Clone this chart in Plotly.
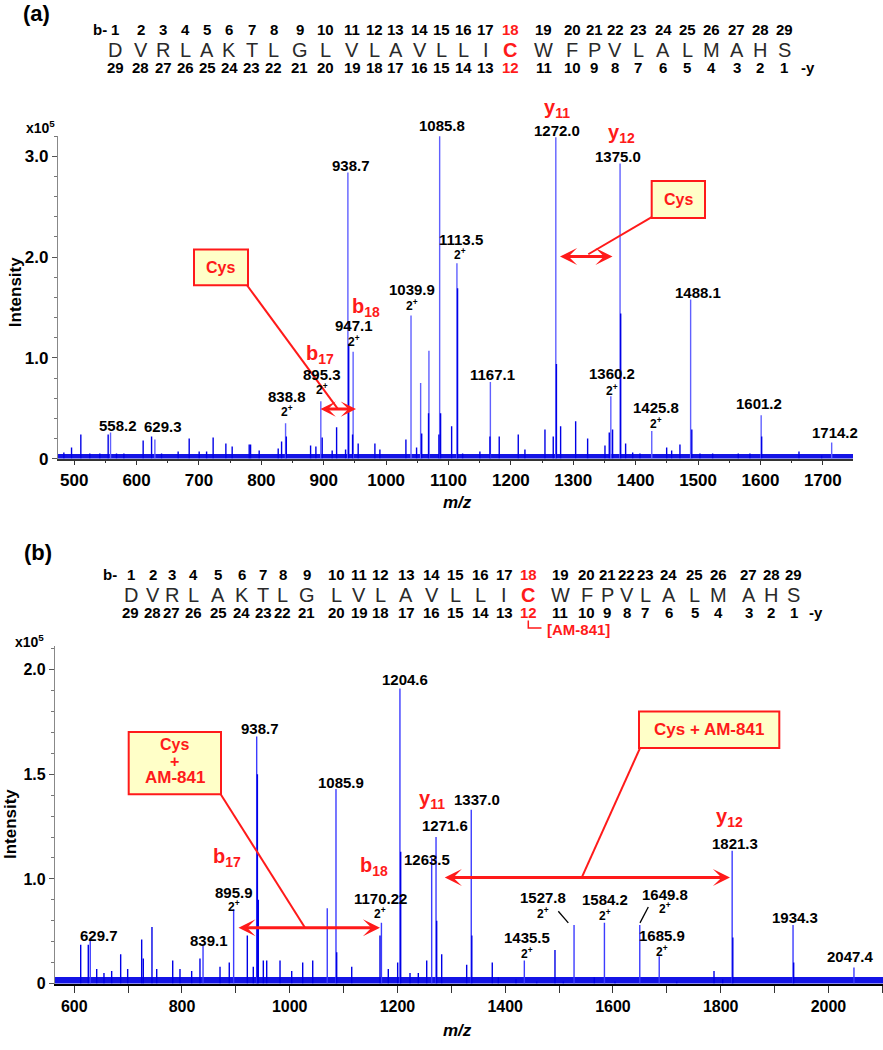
import plotly.graph_objects as go

W, H = 883, 1050

# ---------------- DATA ----------------
# Panel (a): labelled peaks (m/z, intensity in units of 1e5)
mz_a = [558.2, 629.3, 838.8, 895.3, 938.7, 947.1, 1039.9, 1055.3, 1068.6, 1085.8,
        1113.5, 1167.1, 1272.0, 1360.2, 1375.0, 1425.8, 1488.1, 1601.2, 1714.2]
int_a = [0.26, 0.19, 0.35, 0.57, 2.84, 1.06, 1.42, 0.75, 1.07, 3.20,
         1.94, 0.76, 3.19, 0.62, 2.93, 0.275, 1.58, 0.43, 0.16]
# Panel (a): minor peaks
mz_a_minor = [483.4, 495.7, 510.6, 525.0, 541.0, 554.4, 567.8, 579.6, 610.5, 624.0,
              640.0, 666.6, 684.3, 700.3, 712.2, 722.7, 743.1, 753.2, 780.5, 782.7,
              796.5, 827.0, 832.4, 840.0, 878.9, 887.4, 897.5, 913.5, 920.6, 935.0,
              940.0, 946.2, 955.2, 982.0, 990.0, 1031.7, 1048.8, 1057.0, 1068.0, 1084.6,
              1087.3, 1105.0, 1114.5, 1122.6, 1150.3, 1166.4, 1181.3, 1211.8, 1222.5, 1254.6,
              1267.9, 1273.0, 1279.7, 1303.8, 1323.0, 1350.8, 1357.7, 1363.0, 1376.0, 1383.9,
              1395.2, 1406.9, 1449.7, 1457.7, 1471.0, 1490.0, 1503.1, 1523.4, 1564.5, 1583.2,
              1602.0, 1661.8, 1698.2]
int_a_minor = [0.06, 0.11, 0.24, 0.05, 0.05, 0.24, 0.05, 0.05, 0.18, 0.22,
               0.05, 0.07, 0.20, 0.07, 0.07, 0.21, 0.15, 0.12, 0.14, 0.14,
               0.08, 0.10, 0.17, 0.22, 0.13, 0.12, 0.21, 0.08, 0.31, 0.09,
               1.14, 0.24, 0.15, 0.15, 0.09, 0.19, 0.11, 0.25, 0.45, 0.24,
               0.45, 0.32, 1.69, 0.05, 0.07, 0.22, 0.22, 0.24, 0.09, 0.29,
               0.22, 0.94, 0.32, 0.37, 0.20, 0.13, 0.26, 0.29, 1.44, 0.15,
               0.06, 0.05, 0.11, 0.08, 0.14, 0.29, 0.05, 0.05, 0.05, 0.05,
               0.22, 0.07, 0.03]

# Panel (b): labelled peaks (intensity read on the printed axis; its "0" sits at 0.5)
mz_b = [629.7, 839.1, 895.9, 938.7, 1069.7, 1085.9, 1170.22, 1204.6, 1263.5, 1271.6,
        1337.0, 1435.5, 1527.8, 1584.2, 1649.8, 1685.9, 1821.3, 1934.3, 2047.4]
int_b = [0.715, 0.68, 0.855, 1.68, 0.86, 1.43, 0.79, 1.91, 1.10, 1.20,
         1.33, 0.61, 0.78, 0.79, 0.78, 0.63, 1.134, 0.78, 0.577]
mz_b_minor = [612.0, 626.1, 641.7, 655.2, 669.5, 686.2, 699.2, 725.2, 728.2, 744.3,
              753.1, 782.8, 796.3, 818.0, 833.4, 870.6, 887.8, 921.3, 932.4, 940.0,
              941.7, 951.0, 957.3, 982.0, 1003.7, 1024.1, 1042.7, 1087.2, 1115.1, 1167.6,
              1183.0, 1200.4, 1206.0, 1223.3, 1238.7, 1254.3, 1272.8, 1282.1, 1328.5, 1338.0,
              1376.0, 1387.2, 1420.0, 1458.5, 1492.4, 1507.9, 1565.4, 1603.8, 1718.4, 1787.6,
              1803.7, 1822.5, 1935.5]
int_b_minor = [0.685, 0.685, 0.57, 0.55, 0.56, 0.64, 0.57, 0.71, 0.62, 0.77,
               0.57, 0.61, 0.57, 0.56, 0.62, 0.58, 0.60, 0.73, 0.58, 1.50,
               0.90, 0.61, 0.61, 0.61, 0.56, 0.60, 0.61, 0.65, 0.58, 0.73,
               0.57, 0.60, 1.13, 0.55, 0.55, 0.61, 0.80, 0.64, 0.59, 0.73,
               0.60, 0.53, 0.52, 0.51, 0.66, 0.51, 0.53, 0.51, 0.51, 0.56,
               0.52, 0.72, 0.60]

SEQUENCE = ["D", "V", "R", "L", "A", "K", "T", "L", "G", "L", "V", "L", "A", "V", "L",
            "L", "I", "C", "W", "F", "P", "V", "L", "A", "L", "M", "A", "H", "S"]
B_IONS = ["1", "2", "3", "4", "5", "6", "7", "8", "9", "10", "11", "12", "13", "14", "15",
          "16", "17", "18", "19", "20", "21", "22", "23", "24", "25", "26", "27", "28", "29"]
Y_IONS = ["29", "28", "27", "26", "25", "24", "23", "22", "21", "20", "19", "18", "17", "16", "15",
          "14", "13", "12", "11", "10", "9", "8", "7", "6", "5", "4", "3", "2", "1"]
MOD_SITE = 17  # index of Cys

XTICKS_A = [500, 600, 700, 800, 900, 1000, 1100, 1200, 1300, 1400, 1500, 1600, 1700]
XTICKS_B = [600, 800, 1000, 1200, 1400, 1600, 1800, 2000]
YTICKS_A = [0, 1, 2, 3]
YTICKTEXT_A = ["0", "1.0", "2.0", "3.0"]
YTICKS_B = [0.5, 1.0, 1.5, 2.0]
YTICKTEXT_B = ["0", "1.0", "1.5", "2.0"]

# ---------------- LAYOUT CONSTANTS ----------------
XR_A = [474.0, 1748.4]
YR_A = [0.0, 3.2055]
XR_B = [564.3, 2101.3]
BASE_B = 0.5
YR_B = [BASE_B, 2.1138]

SEQ_X_A = [115, 140.5, 163, 185, 207, 229.5, 251.5, 273.5, 299.5, 325.5, 352, 374, 395.5, 419.5,
           441.5, 463.5, 486, 510, 543.5, 572, 594, 615.4, 638.4, 663.1, 687.2, 711.3, 736.6,
           760.1, 784.2]
SEQ_X_B = [130.7, 152.7, 171.7, 193.3, 218.3, 241.7, 263.3, 282.7, 306.7, 336.7, 359.3, 380,
           406, 431.7, 455, 480.7, 504.3, 528.3, 560, 586.7, 607, 626.6, 645.1, 668.7, 694.5,
           718, 748.9, 771.3, 793.8]

FONT = "Liberation Sans, Arial, sans-serif"
RED = "#ff1a1a"


def sticks(mz, inten, base):
    xs, ys = [], []
    for m, v in zip(mz, inten):
        xs += [m, m, None]
        ys += [base, v, None]
    return xs, ys


fig = go.Figure()

# panel (a)
fig.add_trace(go.Scatter(x=XR_A, y=[0, 0], mode="lines", xaxis="x", yaxis="y",
                         line=dict(color="#1414e6", width=9), hoverinfo="skip", showlegend=False))
xs, ys = sticks(mz_a, int_a, 0)
fig.add_trace(go.Scatter(x=xs, y=ys, mode="lines", xaxis="x", yaxis="y",
                         line=dict(color="#6060ff", width=1.4), hoverinfo="skip", showlegend=False))
xs, ys = sticks(mz_a_minor, int_a_minor, 0)
fig.add_trace(go.Scatter(x=xs, y=ys, mode="lines", xaxis="x", yaxis="y",
                         line=dict(color="#0000e6", width=1.4), hoverinfo="skip", showlegend=False))
# panel (b)
fig.add_trace(go.Scatter(x=XR_B, y=[BASE_B, BASE_B], mode="lines", xaxis="x2", yaxis="y2",
                         line=dict(color="#1414e6", width=13), hoverinfo="skip", showlegend=False))
xs, ys = sticks(mz_b, int_b, BASE_B)
fig.add_trace(go.Scatter(x=xs, y=ys, mode="lines", xaxis="x2", yaxis="y2",
                         line=dict(color="#3c3cff", width=1.4), hoverinfo="skip", showlegend=False))
xs, ys = sticks(mz_b_minor, int_b_minor, BASE_B)
fig.add_trace(go.Scatter(x=xs, y=ys, mode="lines", xaxis="x2", yaxis="y2",
                         line=dict(color="#0000e6", width=1.4), hoverinfo="skip", showlegend=False))


def P(px, py):
    return px / W, 1 - py / H


anns = []
shapes = []


def txt(s, px, py, size=15, color="black", bold=True, italic=False, angle=0, xanchor="center"):
    x, y = P(px, py)
    anns.append(dict(text=s, x=x, y=y, xref="paper", yref="paper", xanchor=xanchor,
                     yanchor="middle", showarrow=False, textangle=angle,
                     font=dict(size=size, color=color, family=FONT,
                               weight="bold" if bold else "normal",
                               style="italic" if italic else "normal")))


def line(p1, p2, color=RED, width=2):
    x0, y0 = P(*p1)
    x1, y1 = P(*p2)
    shapes.append(dict(type="line", xref="paper", yref="paper", x0=x0, y0=y0, x1=x1, y1=y1,
                       line=dict(color=color, width=width)))


def box(x0, y0, x1, y1):
    a0, b0 = P(x0, y0)
    a1, b1 = P(x1, y1)
    shapes.append(dict(type="rect", xref="paper", yref="paper", x0=a0, y0=b1, x1=a1, y1=b0,
                       fillcolor="#ffffc8", line=dict(color=RED, width=2)))


def darrow(xs_px, xe_px, py, size=0.95):
    x, y = P(xe_px, py)
    anns.append(dict(text="", x=x, y=y, xref="paper", yref="paper", ax=xs_px - xe_px, ay=0,
                     axref="pixel", ayref="pixel", showarrow=True, arrowhead=3,
                     arrowside="end+start", arrowsize=size, arrowwidth=3, arrowcolor=RED,
                     standoff=0, startstandoff=0))


def sequence(xpos, yb, yl, yy, bx, yx):
    txt("b-", bx, yb, size=15)
    txt("-y", yx, yy, size=15)
    for i, (aa, b, y) in enumerate(zip(SEQUENCE, B_IONS, Y_IONS)):
        c = RED if i == MOD_SITE else "black"
        txt(b, xpos[i], yb, size=15, color=c)
        txt(aa, xpos[i], yl, size=20, color=c if i == MOD_SITE else "#2a2a2a",
            bold=(i == MOD_SITE))
        txt(y, xpos[i], yy, size=15, color=c)


# ---- panel (a) texts ----
txt("(a)", 36.5, 14, size=22)
sequence(SEQ_X_A, 30, 50.5, 68.5, 100, 808)
txt("x10<sup>5</sup>", 40, 128, size=14)
txt("Intensity", 15, 295, size=17, angle=-90)
txt("m/z", 458, 507, size=17, italic=True)

labels_a = [("558.2", 118, 429.5), ("629.3", 163.3, 431), ("838.8", 287.3, 400.7),
            ("895.3", 322, 378), ("947.1", 354, 329), ("938.7", 350.7, 167.3),
            ("1039.9", 412.3, 292.7), ("1085.8", 441.8, 126.7), ("1113.5", 461, 241.7),
            ("1167.1", 492.3, 378.3), ("1272.0", 556.7, 131.7), ("1375.0", 618.3, 158.3),
            ("1360.2", 612.3, 377.3), ("1425.8", 655.7, 411.7), ("1488.1", 697.7, 295),
            ("1601.2", 759.3, 407.7), ("1714.2", 835, 436.7)]
for s, px, py in labels_a:
    txt(s, px, py, size=15)
for px, py in [(287.3, 415), (322, 393), (354.3, 344.3), (412.3, 308.3), (460, 256.7),
               (612.3, 393.3), (655.7, 426.7)]:
    txt("2<sup>+</sup>", px, py, size=12)
txt("b<sub>17</sub>", 320, 358, size=20, color=RED)
txt("b<sub>18</sub>", 366, 310, size=20, color=RED)
txt("y<sub>11</sub>", 557.3, 110, size=20, color=RED)
txt("y<sub>12</sub>", 621.7, 135, size=20, color=RED)

box(194, 252, 248, 288)
txt("Cys", 221, 270, size=16, color=RED)
line((247, 288), (338, 413))
darrow(319, 356, 413, size=0.85)

box(651.7, 182.7, 705, 220)
txt("Cys", 678.3, 201.3, size=16, color=RED)
line((651.7, 219.3), (588.3, 256.7))
darrow(614, 560, 259)

# ---- panel (b) texts ----
txt("(b)", 38.3, 558.3, size=22)
sequence(SEQ_X_B, 580, 601, 618, 110, 816)
shapes.append(dict(type="path", xref="paper", yref="paper",
                   path="M {:.5f},{:.5f} L {:.5f},{:.5f} L {:.5f},{:.5f}".format(
                       *P(528.3, 626.5), *P(528.3, 634), *P(541.5, 634)),
                   line=dict(color=RED, width=1.5)))
txt("[AM-841]", 578, 635.5, size=15, color=RED)
txt("x10<sup>5</sup>", 30, 647, size=14)
txt("Intensity", 10, 832, size=17, angle=-90)
txt("m/z", 458, 1040, size=17, italic=True)

labels_b = [("629.7", 99, 944), ("839.1", 209, 949.3), ("895.9", 234.3, 900.7),
            ("938.7", 259.7, 736), ("1085.9", 340.7, 790), ("1170.22", 380, 907.3),
            ("1204.6", 405.3, 686), ("1263.5", 426.7, 867.3), ("1271.6", 445, 833.3),
            ("1337.0", 476.7, 806.7), ("1435.5", 527.3, 946.7), ("1527.8", 543.3, 906),
            ("1584.2", 605, 908), ("1649.8", 665, 902.7), ("1685.9", 661.7, 944),
            ("1821.3", 735, 851.7), ("1934.3", 795, 926.7), ("2047.4", 850, 966)]
for s, px, py in labels_b:
    txt(s, px, py, size=15)
for px, py in [(234.3, 915), (380, 921.7), (527.3, 962.3), (543.3, 921.7), (605, 924),
               (665, 917), (661.7, 960)]:
    txt("2<sup>+</sup>", px, py, size=12)
line((558.3, 920), (568.3, 931.7), color="black", width=1.3)
line((648.3, 915.7), (640, 931.7), color="black", width=1.3)
txt("b<sub>17</sub>", 227, 866, size=20, color=RED)
txt("b<sub>18</sub>", 374, 875, size=20, color=RED)
txt("y<sub>11</sub>", 431.7, 807, size=20, color=RED)
txt("y<sub>12</sub>", 729.3, 825, size=20, color=RED)

box(128.7, 739, 221, 802)
txt("Cys", 174.8, 752, size=16, color=RED)
txt("+", 174.8, 768.5, size=16, color=RED)
txt("AM-841", 174.8, 785, size=17, color=RED)
line((221, 802.3), (305, 936.7))
darrow(237, 380, 936.7)

box(639, 718.3, 779.3, 755.3)
txt("Cys + AM-841", 709.2, 736.8, size=17, color=RED)
line((640, 755.3), (581.7, 886))
darrow(443.3, 730, 886)

tickfont_a = dict(size=17, color="black", family=FONT, weight="bold")
tickfont_b = dict(size=16, color="black", family=FONT, weight="bold")

fig.update_layout(
    width=W, height=H, margin=dict(l=0, r=0, t=0, b=0),
    paper_bgcolor="white", plot_bgcolor="white", showlegend=False,
    font=dict(family=FONT),
    xaxis=dict(domain=[58 / W, 853 / W], range=XR_A, anchor="y", showgrid=False, zeroline=False,
               showline=True, linecolor="#333", linewidth=1.5, ticks="outside", ticklen=5,
               tickcolor="#333", tickvals=XTICKS_A, tickfont=tickfont_a,
               minor=dict(ticks="outside", ticklen=3, dtick=50, tick0=0, tickcolor="#333",
                          showgrid=False)),
    yaxis=dict(domain=[1 - 463 / H, 1 - 137 / H], range=YR_A, anchor="x", showgrid=False,
               zeroline=False, showline=True, linecolor="#888", linewidth=1.2, ticks="outside",
               ticklen=5, tickcolor="#555", tickvals=YTICKS_A, ticktext=YTICKTEXT_A,
               tickfont=tickfont_a,
               minor=dict(ticks="outside", ticklen=3, dtick=0.2, tick0=0, tickcolor="#777",
                          showgrid=False)),
    xaxis2=dict(domain=[55 / W, 1.0], range=XR_B, anchor="y2", showgrid=False, zeroline=False,
                showline=True, linecolor="black", linewidth=2, ticks="outside", ticklen=7,
                tickcolor="#333", tickvals=XTICKS_B, tickfont=tickfont_b,
                minor=dict(ticks="outside", ticklen=7, dtick=100, tick0=0, tickcolor="#333",
                           showgrid=False)),
    yaxis2=dict(domain=[1 - 993 / H, 1 - 652 / H], range=YR_B, anchor="x2", showgrid=False,
                zeroline=False, showline=True, linecolor="#888", linewidth=1.2, ticks="outside",
                ticklen=5, tickcolor="#555", tickvals=YTICKS_B, ticktext=YTICKTEXT_B,
                tickfont=tickfont_b,
                minor=dict(ticks="outside", ticklen=3, dtick=0.1, tick0=0.5, tickcolor="#777",
                           showgrid=False)),
    annotations=anns, shapes=shapes,
)

fig.write_html("out.html", config={"displayModeBar": False},
               post_script="document.body.style.margin='0px';"
                           "document.body.style.overflow='hidden';")
